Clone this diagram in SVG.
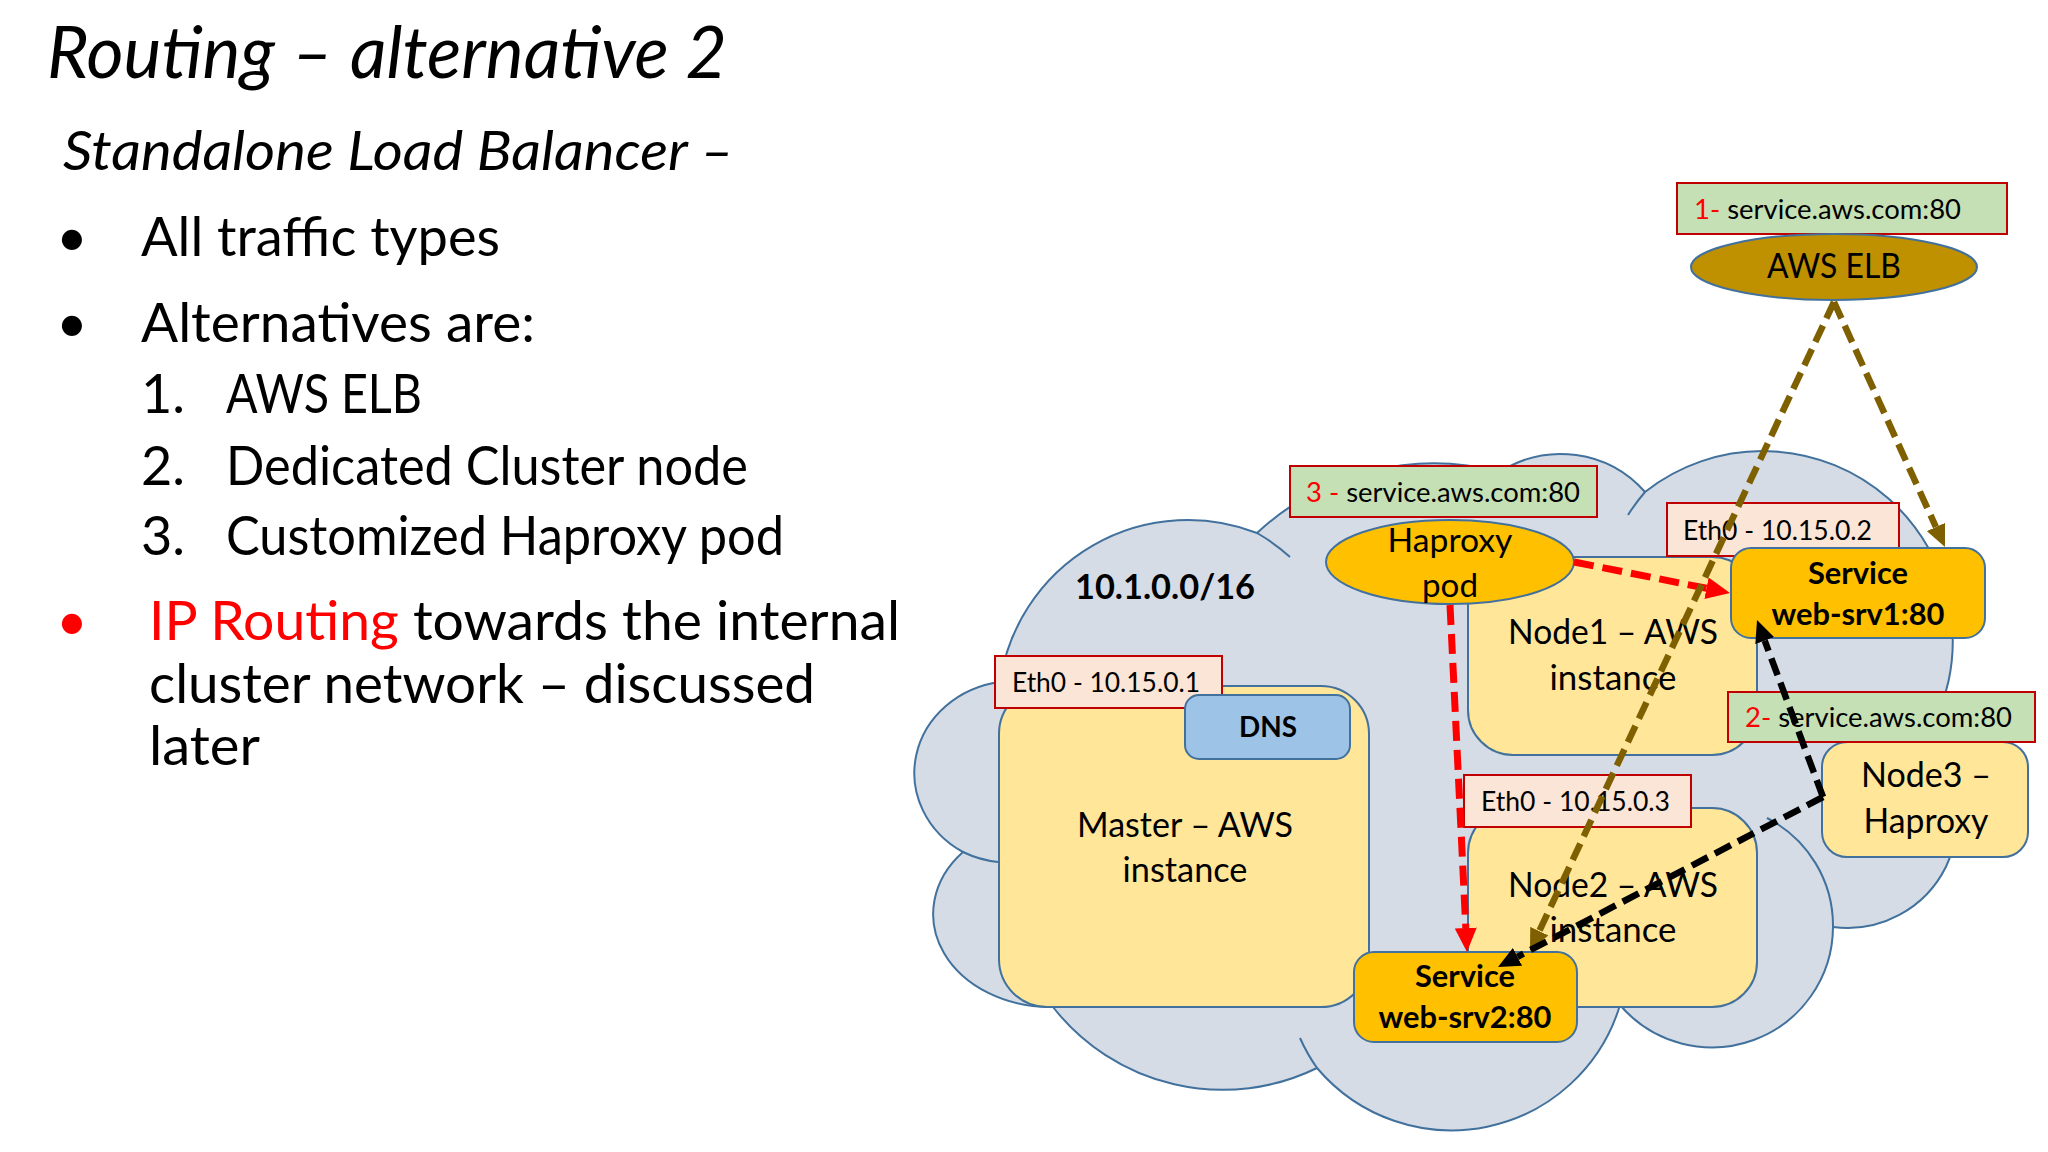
<svg xmlns="http://www.w3.org/2000/svg" width="2048" height="1152" viewBox="0 0 2048 1152">
<style>
text{font-family:Lato,"Liberation Sans",sans-serif;fill:#000}
.slide{font-size:54px}
.lbl{font-size:27px}
.node{font-size:35px}
.bold{font-weight:bold}
.red{fill:#FF0000}
.cloud{fill:#D6DCE5;stroke:#41719C;stroke-width:2}
.inner{fill:none;stroke:#41719C;stroke-width:2}
.inst{fill:#FFE699;stroke:#41719C;stroke-width:2}
.svc{fill:#FFC000;stroke:#41719C;stroke-width:2}
.dns{fill:#9DC3E6;stroke:#41719C;stroke-width:2}
.eth{fill:#FBE5D6;stroke:#C00000;stroke-width:2}
.url{fill:#C5E0B4;stroke:#C00000;stroke-width:2}
.c-red{fill:none;stroke:#FF0000;stroke-width:7;stroke-dasharray:20 9}
.c-brown{fill:none;stroke:#7F6000;stroke-width:6.5;stroke-dasharray:18 8}
.c-black{fill:none;stroke:#000;stroke-width:6.5;stroke-dasharray:18 8}
</style>
<defs>
<marker id="arr-red" viewBox="0 0 24 22" refX="0" refY="11" markerWidth="24" markerHeight="22" markerUnits="userSpaceOnUse" orient="auto"><path d="M0,0 L24,11 L0,22 Z" fill="#FF0000"/></marker>
<marker id="arr-brown" viewBox="0 0 22 20" refX="0" refY="10" markerWidth="22" markerHeight="20" markerUnits="userSpaceOnUse" orient="auto"><path d="M0,0 L22,10 L0,20 Z" fill="#7F6000"/></marker>
<marker id="arr-black" viewBox="0 0 22 20" refX="0" refY="10" markerWidth="22" markerHeight="20" markerUnits="userSpaceOnUse" orient="auto"><path d="M0,0 L22,10 L0,20 Z" fill="#000"/></marker>
</defs>
<rect width="2048" height="1152" fill="#FFFFFF"/>

<g id="slide-text">
<text x="47" y="78" font-size="72" font-style="italic" textLength="680" lengthAdjust="spacingAndGlyphs">Routing – alternative 2</text>
<text class="slide" x="63" y="170" font-style="italic" textLength="671" lengthAdjust="spacingAndGlyphs">Standalone Load Balancer –</text>
<text class="slide" x="72" y="256" text-anchor="middle">•</text>
<text class="slide" x="141" y="256" textLength="359" lengthAdjust="spacingAndGlyphs">All traffic types</text>
<text class="slide" x="72" y="342" text-anchor="middle">•</text>
<text class="slide" x="141" y="342" textLength="394" lengthAdjust="spacingAndGlyphs">Alternatives are:</text>
<text class="slide" x="141" y="413">1.</text>
<text class="slide" x="226" y="413" textLength="196" lengthAdjust="spacingAndGlyphs">AWS ELB</text>
<text class="slide" x="141" y="485">2.</text>
<text class="slide" x="226" y="485" textLength="522" lengthAdjust="spacingAndGlyphs">Dedicated Cluster node</text>
<text class="slide" x="141" y="555">3.</text>
<text class="slide" x="226" y="555" textLength="558" lengthAdjust="spacingAndGlyphs">Customized Haproxy pod</text>
<text class="slide red" x="72" y="640" text-anchor="middle">•</text>
<text class="slide" x="149" y="640" textLength="751" lengthAdjust="spacingAndGlyphs"><tspan class="red">IP Routing</tspan> towards the internal</text>
<text class="slide" x="149" y="703" textLength="666" lengthAdjust="spacingAndGlyphs">cluster network – discussed</text>
<text class="slide" x="149" y="765" textLength="111" lengthAdjust="spacingAndGlyphs">later</text>
</g>

<g id="cloud">
<path class="cloud" d="M963,852 A100,92 0 0 1 1000,682 A190,190 0 0 1 1257,533 A260,260 0 0 1 1500,472 A112,112 0 0 1 1645,492 A190,190 0 0 1 1925,740 A110,110 0 0 1 1833,927 A121,121 0 0 1 1620,1005 A176,176 0 0 1 1317,1068 A215,215 0 0 1 1053,1007 A117,93 0 0 1 963,852 Z"/>
<path class="inner" d="M963,852 A100,92 0 0 0 998,862 M1257,533 A190,190 0 0 1 1290,557 M1645,492 A190,190 0 0 0 1628,515 M1833,927 A121,121 0 0 0 1767,818 M1317,1068 A176,176 0 0 1 1300,1038"/>
<text class="bold" x="1075" y="599" font-size="34" textLength="180" lengthAdjust="spacingAndGlyphs">10.1.0.0/16</text>
</g>

<g id="master">
<rect class="inst" x="999" y="686" width="370" height="321" rx="48"/>
<text class="node" x="1185" y="837" text-anchor="middle" textLength="216" lengthAdjust="spacingAndGlyphs">Master – AWS</text>
<text class="node" x="1185" y="882" text-anchor="middle" textLength="125" lengthAdjust="spacingAndGlyphs">instance</text>
</g>
<g id="eth0-master">
<rect class="eth" x="995" y="656" width="227" height="52"/>
<text class="lbl" x="1012" y="692" textLength="188" lengthAdjust="spacingAndGlyphs">Eth0 - 10.15.0.1</text>
</g>
<g id="dns">
<rect class="dns" x="1185" y="695" width="165" height="64" rx="14"/>
<text class="bold" x="1268" y="737" font-size="29" text-anchor="middle" textLength="58" lengthAdjust="spacingAndGlyphs">DNS</text>
</g>

<g id="node1">
<rect class="inst" x="1468" y="557" width="289" height="198" rx="45"/>
<text class="node" x="1613" y="644" text-anchor="middle" textLength="210" lengthAdjust="spacingAndGlyphs">Node1 – AWS</text>
<text class="node" x="1613" y="690" text-anchor="middle" textLength="127" lengthAdjust="spacingAndGlyphs">instance</text>
</g>
<g id="eth0-node1">
<rect class="eth" x="1667" y="503" width="232" height="53"/>
<text class="lbl" x="1683" y="540" textLength="189" lengthAdjust="spacingAndGlyphs">Eth0 - 10.15.0.2</text>
</g>
<g id="web-srv1">
<rect class="svc" x="1731" y="548" width="254" height="90" rx="20"/>
<text class="bold" x="1858" y="584" font-size="30" text-anchor="middle" textLength="100" lengthAdjust="spacingAndGlyphs">Service</text>
<text class="bold" x="1858" y="625" font-size="30" text-anchor="middle" textLength="173" lengthAdjust="spacingAndGlyphs">web-srv1:80</text>
</g>

<g id="label-3">
<rect class="url" x="1290" y="466" width="307" height="51"/>
<text class="lbl" x="1306" y="502" textLength="274" lengthAdjust="spacingAndGlyphs"><tspan class="red">3 -</tspan> service.aws.com:80</text>
</g>
<g id="haproxy-pod">
<ellipse class="svc" cx="1450" cy="562" rx="124" ry="42"/>
<text x="1450" y="552" font-size="33" text-anchor="middle" textLength="125" lengthAdjust="spacingAndGlyphs">Haproxy</text>
<text x="1450" y="597" font-size="33" text-anchor="middle" textLength="56" lengthAdjust="spacingAndGlyphs">pod</text>
</g>

<g id="node2">
<rect class="inst" x="1468" y="808" width="289" height="199" rx="45"/>
<text class="node" x="1613" y="897" text-anchor="middle" textLength="210" lengthAdjust="spacingAndGlyphs">Node2 – AWS</text>
<text class="node" x="1613" y="942" text-anchor="middle" textLength="127" lengthAdjust="spacingAndGlyphs">instance</text>
</g>
<g id="eth0-node2">
<rect class="eth" x="1464" y="775" width="227" height="52"/>
<text class="lbl" x="1481" y="811" textLength="189" lengthAdjust="spacingAndGlyphs">Eth0 - 10.15.0.3</text>
</g>

<g id="node3">
<rect class="inst" x="1822" y="742" width="206" height="115" rx="25"/>
<text class="node" x="1926" y="787" text-anchor="middle" textLength="130" lengthAdjust="spacingAndGlyphs">Node3 –</text>
<text class="node" x="1926" y="833" text-anchor="middle" textLength="125" lengthAdjust="spacingAndGlyphs">Haproxy</text>
</g>
<g id="label-2">
<rect class="url" x="1728" y="692" width="307" height="50"/>
<text class="lbl" x="1745" y="727" textLength="267" lengthAdjust="spacingAndGlyphs"><tspan class="red">2-</tspan> service.aws.com:80</text>
</g>

<g id="web-srv2">
<rect class="svc" x="1354" y="952" width="223" height="90" rx="20"/>
<text class="bold" x="1465" y="987" font-size="30" text-anchor="middle" textLength="100" lengthAdjust="spacingAndGlyphs">Service</text>
<text class="bold" x="1465" y="1028" font-size="30" text-anchor="middle" textLength="173" lengthAdjust="spacingAndGlyphs">web-srv2:80</text>
</g>

<g id="label-1">
<rect class="url" x="1677" y="183" width="330" height="51"/>
<text class="lbl" x="1694" y="219" textLength="267" lengthAdjust="spacingAndGlyphs"><tspan class="red">1-</tspan> service.aws.com:80</text>
</g>
<g id="aws-elb">
<ellipse cx="1834" cy="267" rx="143" ry="33" fill="#BF9000" stroke="#41719C" stroke-width="2"/>
<text x="1834" y="278" font-size="35" text-anchor="middle" textLength="134" lengthAdjust="spacingAndGlyphs">AWS ELB</text>
</g>

<g id="connectors">
<path class="c-red" d="M1574,562 L1706.5,588.3" marker-end="url(#arr-red)"/>
<path class="c-red" d="M1450,605 L1465.8,928" marker-end="url(#arr-red)"/>
<path class="c-brown" d="M1834,302 L1935.9,527" marker-end="url(#arr-brown)"/>
<path class="c-brown" d="M1834,302 L1539.3,931.1" marker-end="url(#arr-brown)"/>
<path class="c-black" d="M1823,797 L1764.7,640.6" marker-end="url(#arr-black)"/>
<path class="c-black" d="M1823,797 L1517.5,956.8" marker-end="url(#arr-black)"/>
</g>
</svg>
